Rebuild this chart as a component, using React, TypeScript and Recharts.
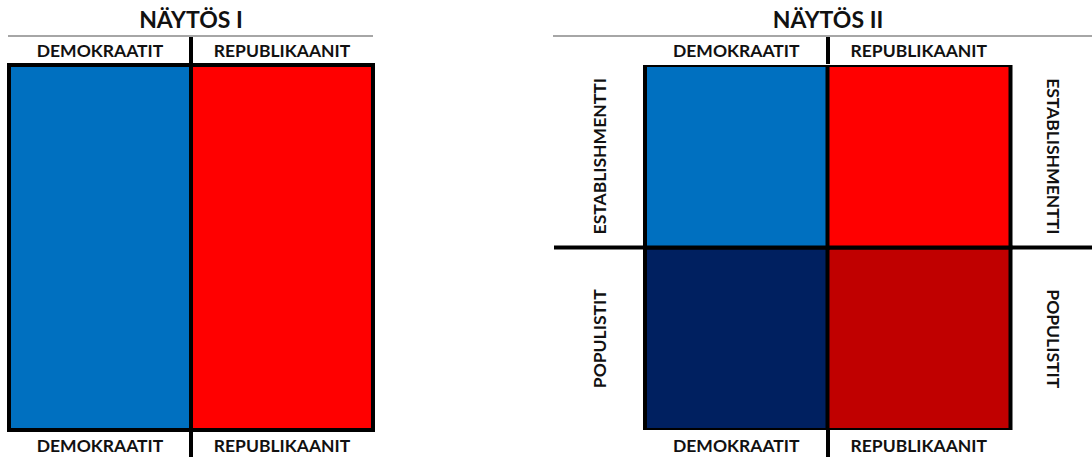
import { BarChart, Bar, XAxis, YAxis, Cell } from 'recharts';

const parties = ['DEMOKRAATIT', 'REPUBLIKAANIT'];
const factions = ['ESTABLISHMENTTI', 'POPULISTIT'];
const factionTicks = [1.5, 0.5];

const act1Share = [1, 1];
const act2Establishment = [1, 1];
const act2Populists = [1, 1];

const act1Colors = ['#0070C0', '#FF0000'];
const establishmentColors = ['#0070C0', '#FF0000'];
const populistColors = ['#002060', '#C00000'];

const titles = ['NÄYTÖS I', 'NÄYTÖS II'];

const FONT = 'Lato, "Open Sans", sans-serif';
const INK = '#111';

const act1Data = parties.map((name, i) => ({ name, share: act1Share[i] }));
const act2Data = parties.map((name, i) => ({
  name,
  populistit: act2Populists[i],
  establishmentti: act2Establishment[i],
}));

const labelStyle = { fontFamily: FONT, fontWeight: 700, fontSize: 17.5, fill: INK };

const TopTick = (props: any) => (
  <text x={props.x} y={props.y} textAnchor="middle" {...labelStyle}>
    {props.payload.value}
  </text>
);

const BottomTick = (props: any) => (
  <text x={props.x} y={props.y + 14} textAnchor="middle" {...labelStyle}>
    {props.payload.value}
  </text>
);

const factionName = (v: number) => factions[factionTicks.indexOf(v)] ?? '';

const LeftTick = (props: any) => (
  <text
    x={props.x}
    y={props.y}
    textAnchor="middle"
    transform={`rotate(-90, ${props.x}, ${props.y})`}
    {...labelStyle}
  >
    {factionName(props.payload.value)}
  </text>
);

const RightTick = (props: any) => (
  <text
    x={props.x}
    y={props.y}
    textAnchor="middle"
    transform={`rotate(90, ${props.x}, ${props.y})`}
    {...labelStyle}
  >
    {factionName(props.payload.value)}
  </text>
);

// lines and headings around the two boxes
const Decor = () => (
  <svg width={1092} height={457} style={{ position: 'absolute', left: 0, top: 0 }}>
    <text x={191} y={28} textAnchor="middle" fontFamily={FONT} fontWeight={700} fontSize={23} fill={INK}>
      {titles[0]}
    </text>
    <text x={828} y={28} textAnchor="middle" fontFamily={FONT} fontWeight={700} fontSize={23} fill={INK}>
      {titles[1]}
    </text>
    <line x1={8} x2={373} y1={36} y2={36} stroke="#a6a6a6" strokeWidth={2} />
    <line x1={553} x2={1092} y1={36} y2={36} stroke="#a6a6a6" strokeWidth={2} />
    <line x1={191} x2={191} y1={37} y2={64} stroke="#000" strokeWidth={4} />
    <line x1={191} x2={191} y1={430} y2={457} stroke="#000" strokeWidth={4} />
    <line x1={828} x2={828} y1={37} y2={64} stroke="#000" strokeWidth={4} />
    <line x1={828} x2={828} y1={430} y2={457} stroke="#000" strokeWidth={4} />
    <line x1={554} x2={1092} y1={247.5} y2={247.5} stroke="#000" strokeWidth={4} />
  </svg>
);

const App = () => {
  return (
    <div style={{ position: 'absolute', left: 0, top: 0, width: 1092, height: 457, background: '#fff' }}>
      <Decor />
      <div style={{ position: 'absolute', left: 0, top: 0 }}>
        <BarChart
          width={546}
          height={457}
          data={act1Data}
          barCategoryGap={0}
          barGap={0}
          margin={{ top: 38, bottom: 0, left: 9, right: 173 }}
        >
          <XAxis xAxisId="top" dataKey="name" orientation="top" height={27} axisLine={false} tickLine={false} tickSize={0} tickMargin={8} tick={TopTick} interval={0} />
          <XAxis xAxisId="bottom" dataKey="name" orientation="bottom" height={27} axisLine={false} tickLine={false} tickSize={0} tickMargin={8} tick={BottomTick} interval={0} />
          <YAxis hide domain={[0, 1]} />
          <Bar xAxisId="top" dataKey="share" stroke="#000" strokeWidth={4} isAnimationActive={false}>
            {act1Data.map((d, i) => (
              <Cell key={d.name} fill={act1Colors[i]} />
            ))}
          </Bar>
        </BarChart>
      </div>
      <div style={{ position: 'absolute', left: 546, top: 0 }}>
        <BarChart
          width={546}
          height={457}
          data={act2Data}
          barCategoryGap={0}
          barGap={0}
          margin={{ top: 38, bottom: 0, left: 39, right: 22 }}
        >
          <XAxis xAxisId="top" dataKey="name" orientation="top" height={27} axisLine={false} tickLine={false} tickSize={0} tickMargin={8} tick={TopTick} interval={0} />
          <XAxis xAxisId="bottom" dataKey="name" orientation="bottom" height={27} axisLine={false} tickLine={false} tickSize={0} tickMargin={8} tick={BottomTick} interval={0} />
          <YAxis yAxisId="left" orientation="left" width={60} type="number" domain={[0, 2]} allowDataOverflow ticks={factionTicks} axisLine={false} tickLine={false} tickSize={0} tickMargin={39} tick={LeftTick} />
          <YAxis yAxisId="right" orientation="right" width={60} type="number" domain={[0, 2]} allowDataOverflow ticks={factionTicks} axisLine={false} tickLine={false} tickSize={0} tickMargin={37} tick={RightTick} />
          <Bar xAxisId="top" yAxisId="left" dataKey="populistit" stackId="a" stroke="#000" strokeWidth={4} isAnimationActive={false}>
            {act2Data.map((d, i) => (
              <Cell key={d.name} fill={populistColors[i]} />
            ))}
          </Bar>
          <Bar xAxisId="top" yAxisId="left" dataKey="establishmentti" stackId="a" stroke="#000" strokeWidth={4} isAnimationActive={false}>
            {act2Data.map((d, i) => (
              <Cell key={d.name} fill={establishmentColors[i]} />
            ))}
          </Bar>
        </BarChart>
      </div>
    </div>
  );
};

export default App;
